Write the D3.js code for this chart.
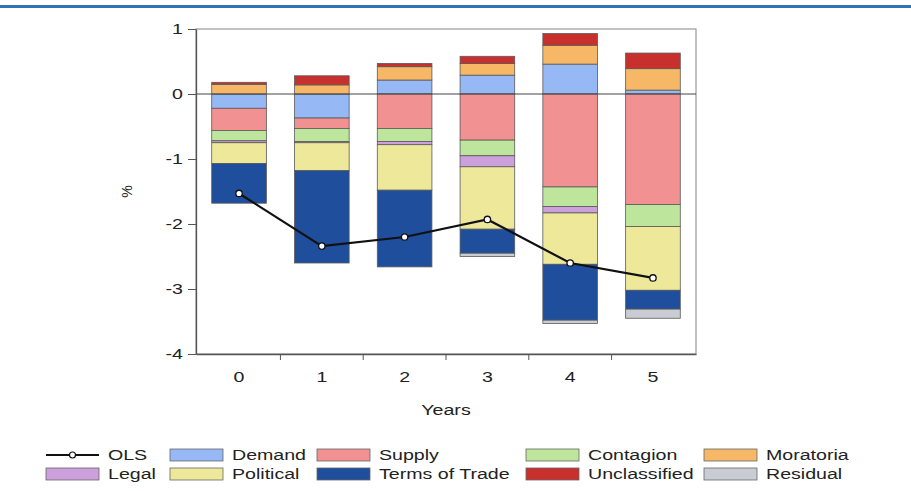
<!DOCTYPE html>
<html>
<head>
<meta charset="utf-8">
<script src="https://cdn.jsdelivr.net/npm/d3@7"></script>
<style>
  body { margin: 0; background: #fff; }
  text { font-family: "Liberation Sans", Arial, sans-serif; fill: #222; }
</style>
</head>
<body>
<div id="chart"></div>
<script>
// values (percent)
const years = ["0", "1", "2", "3", "4", "5"];
const demand = [-0.22, -0.37, 0.215, 0.29, 0.46, 0.06];
const supply = [-0.34, -0.16, -0.53, -0.71, -1.43, -1.70];
const contagion = [-0.16, -0.20, -0.20, -0.24, -0.30, -0.34];
const legal = [-0.03, -0.02, -0.05, -0.17, -0.10, 0];
const political = [-0.32, -0.43, -0.70, -0.96, -0.79, -0.98];
const termsOfTrade = [-0.61, -1.42, -1.18, -0.37, -0.86, -0.29];
const moratoria = [0.15, 0.14, 0.205, 0.18, 0.29, 0.33];
const unclassified = [0.03, 0.14, 0.05, 0.11, 0.18, 0.24];
const residual = [0, 0, 0, -0.05, -0.05, -0.14];
const ols = [-1.53, -2.34, -2.20, -1.93, -2.60, -2.83];
const yTicks = [1, 0, -1, -2, -3, -4];

const seriesList = [
  {key: "Demand", values: demand, color: "#96b8f5"},
  {key: "Supply", values: supply, color: "#f29191"},
  {key: "Contagion", values: contagion, color: "#bde69c"},
  {key: "Legal", values: legal, color: "#cc9fdd"},
  {key: "Political", values: political, color: "#eee89b"},
  {key: "Terms of Trade", values: termsOfTrade, color: "#1e4e9c"},
  {key: "Moratoria", values: moratoria, color: "#f6b866"},
  {key: "Unclassified", values: unclassified, color: "#c8302e"},
  {key: "Residual", values: residual, color: "#c9ccd3"}
];
const colorOf = {};
seriesList.forEach(s => colorOf[s.key] = s.color);

const rows = years.map((y, i) => {
  const r = {year: y};
  seriesList.forEach(s => r[s.key] = s.values[i]);
  return r;
});

const width = 911, height = 491;
const margin = {top: 29, right: 215, bottom: 137, left: 196};
const stretch = 1.4;
const fontPx = 14;

const svg = d3.select("#chart").append("svg")
  .attr("width", width)
  .attr("height", height);

// blue header rule
svg.append("rect").attr("x", 0).attr("y", 5).attr("width", width).attr("height", 3).attr("fill", "#2e75b6");

const x = d3.scaleBand()
  .domain(years)
  .range([margin.left, width - margin.right])
  .paddingInner(0.34)
  .paddingOuter(0.19);
const y = d3.scaleLinear()
  .domain([-4, 1])
  .range([height - margin.bottom, margin.top]);

// frame
svg.append("rect")
  .attr("x", margin.left).attr("y", margin.top)
  .attr("width", width - margin.right - margin.left)
  .attr("height", y(-4) - y(1))
  .attr("fill", "none").attr("stroke", "#999").attr("stroke-width", 1.2);

const stack = d3.stack()
  .keys(seriesList.map(s => s.key))
  .offset(d3.stackOffsetDiverging);
const stacked = stack(rows);

svg.append("g").selectAll("g")
  .data(stacked)
  .join("g")
  .attr("fill", d => colorOf[d.key])
  .selectAll("rect")
  .data(d => d.filter(p => p[1] - p[0] !== 0))
  .join("rect")
  .attr("x", d => x(d.data.year))
  .attr("width", x.bandwidth())
  .attr("y", d => y(Math.max(d[0], d[1])))
  .attr("height", d => Math.abs(y(d[0]) - y(d[1])))
  .attr("stroke", "#5a5a5a")
  .attr("stroke-width", 0.8);

// zero line
svg.append("line")
  .attr("x1", margin.left).attr("x2", width - margin.right)
  .attr("y1", y(0)).attr("y2", y(0))
  .attr("stroke", "#444").attr("stroke-width", 1);

// axes
const yAxis = svg.append("g")
  .attr("transform", `translate(${margin.left},0)`)
  .call(d3.axisLeft(y).tickValues(yTicks).tickFormat(d => String(d)).tickSize(8).tickSizeOuter(0));
const bandStep = x.step();
const boundaries = d3.range(1, years.length).map(i => x(years[i]) - x.paddingInner() * bandStep / 2);
const xAxis = svg.append("g")
  .attr("transform", `translate(0,${y(-4)})`)
  .call(d3.axisBottom(x).tickSize(0).tickSizeOuter(0));
xAxis.selectAll(".tick line").remove();
xAxis.selectAll("line.sep")
  .data(boundaries)
  .join("line")
  .attr("class", "sep")
  .attr("x1", d => d).attr("x2", d => d)
  .attr("y1", 0).attr("y2", 6)
  .attr("stroke", "#555");

[yAxis, xAxis].forEach(g => {
  g.select(".domain").attr("stroke", "#555").attr("stroke-width", 1.3);
  g.selectAll(".tick line").attr("stroke", "#555");
  g.selectAll("text").style("font-size", fontPx + "px").attr("fill", "#222");
});
yAxis.selectAll(".tick text")
  .attr("x", null)
  .attr("transform", `translate(-13,0) scale(${stretch},1)`);
xAxis.selectAll(".tick text")
  .attr("y", null).attr("dy", null)
  .attr("transform", `translate(0,28) scale(${stretch},1)`);

// OLS line
const line = d3.line()
  .x((d, i) => x(years[i]) + x.bandwidth() / 2)
  .y(d => y(d));
svg.append("path")
  .datum(ols)
  .attr("fill", "none")
  .attr("stroke", "#111")
  .attr("stroke-width", 2.2)
  .attr("d", line);
svg.append("g").selectAll("circle")
  .data(ols)
  .join("circle")
  .attr("cx", (d, i) => x(years[i]) + x.bandwidth() / 2)
  .attr("cy", d => y(d))
  .attr("r", 3.2)
  .attr("fill", "#fff")
  .attr("stroke", "#111")
  .attr("stroke-width", 1.3);

function stretchedText(px, py, str, anchor) {
  return svg.append("text")
    .attr("transform", `translate(${px},${py}) scale(${stretch},1)`)
    .attr("text-anchor", anchor || "start")
    .style("font-size", fontPx + "px")
    .text(str);
}

// axis titles
stretchedText((margin.left + width - margin.right) / 2, 415, "Years", "middle");
svg.append("text")
  .attr("transform", `translate(132,${y(-1.5)}) rotate(-90)`)
  .attr("text-anchor", "middle")
  .style("font-size", fontPx + "px")
  .text("%");

// legend
const legendCols = [46, 170, 317, 526, 704];
const legendRows = [455, 474];
const legendItems = [
  ["OLS", 0, 0], ["Demand", 1, 0], ["Supply", 2, 0], ["Contagion", 3, 0], ["Moratoria", 4, 0],
  ["Legal", 0, 1], ["Political", 1, 1], ["Terms of Trade", 2, 1], ["Unclassified", 3, 1], ["Residual", 4, 1]
];
const swW = 53, swH = 12;
legendItems.forEach(([name, c, r]) => {
  const lx = legendCols[c], ly = legendRows[r];
  if (name === "OLS") {
    svg.append("line")
      .attr("x1", lx).attr("x2", lx + swW)
      .attr("y1", ly).attr("y2", ly)
      .attr("stroke", "#111").attr("stroke-width", 2);
    svg.append("circle")
      .attr("cx", lx + swW / 2).attr("cy", ly).attr("r", 3)
      .attr("fill", "#fff").attr("stroke", "#111").attr("stroke-width", 1.2);
  } else {
    svg.append("rect")
      .attr("x", lx).attr("y", ly - swH / 2)
      .attr("width", swW).attr("height", swH)
      .attr("fill", colorOf[name])
      .attr("stroke", "#666").attr("stroke-width", 0.8);
  }
  stretchedText(lx + swW + 9, ly + 5, name, "start");
});
</script>
</body>
</html>
